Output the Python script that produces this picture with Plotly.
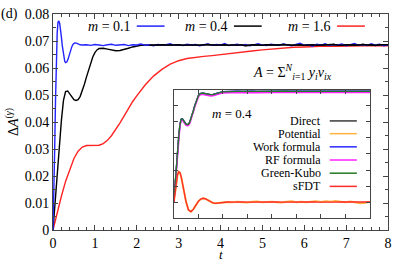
import plotly.graph_objects as go

# ---------------- main panel data ----------------
t_m01_early = [0, 0.02, 0.04, 0.06, 0.08, 0.10, 0.12, 0.14, 0.16, 0.18, 0.20, 0.22, 0.24, 0.26,
               0.28, 0.30, 0.33, 0.36, 0.39, 0.42, 0.45, 0.48, 0.52, 0.56, 0.60, 0.65, 0.70]
y_m01_early = [0, 0.012, 0.030, 0.048, 0.063, 0.0730, 0.0770, 0.0774, 0.0765, 0.0745, 0.0715, 0.0685,
               0.0657, 0.0637, 0.0625, 0.0620, 0.0622, 0.0633, 0.0650, 0.0666, 0.0679, 0.0688, 0.0693,
               0.0692, 0.0689, 0.0686, 0.0685]
t_m01_late = [round(0.8 + 0.1 * i, 2) for i in range(73)]
y_m01_late = [0.0686, 0.0684, 0.0687, 0.0685, 0.0683, 0.0686, 0.0688, 0.0684, 0.0685, 0.0687,
              0.0683, 0.0686, 0.0685, 0.0689, 0.0684, 0.0686, 0.0682, 0.0687, 0.0685, 0.0686,
              0.0690, 0.0684, 0.0686, 0.0683, 0.0688, 0.0685, 0.0687, 0.0682, 0.0686, 0.0689,
              0.0684, 0.0687, 0.0685, 0.0691, 0.0683, 0.0686, 0.0688, 0.0684, 0.0687, 0.0682,
              0.0686, 0.0690, 0.0685, 0.0683, 0.0688, 0.0686, 0.0684, 0.0689, 0.0685, 0.0682,
              0.0687, 0.0692, 0.0684, 0.0686, 0.0681, 0.0688, 0.0685, 0.0690, 0.0683, 0.0687,
              0.0685, 0.0689, 0.0682, 0.0686, 0.0691, 0.0684, 0.0687, 0.0683, 0.0690, 0.0685,
              0.0688, 0.0682, 0.0686]

t_m04_early = [0, 0.05, 0.10, 0.15, 0.20, 0.25, 0.30, 0.35, 0.40, 0.45, 0.50, 0.55, 0.60, 0.65,
               0.70, 0.75, 0.80, 0.85, 0.90, 0.95, 1.00, 1.05, 1.10, 1.20, 1.30, 1.40, 1.50, 1.60,
               1.70, 1.80, 1.90, 2.00, 2.10, 2.20]
y_m04_early = [0, 0.011, 0.022, 0.032, 0.0405, 0.0480, 0.0513, 0.0515, 0.0505, 0.0492, 0.0483,
               0.0480, 0.0483, 0.0495, 0.0515, 0.0540, 0.0567, 0.0594, 0.0620, 0.0641, 0.0657,
               0.0667, 0.0672, 0.0673, 0.0670, 0.0666, 0.0664, 0.0665, 0.0668, 0.0673, 0.0678,
               0.0682, 0.0684, 0.0685]
t_m04_late = [round(2.3 + 0.1 * i, 2) for i in range(58)]
y_m04_late = [0.0684, 0.0685, 0.0684, 0.0686, 0.0685, 0.0684, 0.0685, 0.0686, 0.0684, 0.0685,
              0.0686, 0.0685, 0.0684, 0.0685, 0.0687, 0.0685, 0.0684, 0.0685, 0.0686, 0.0684,
              0.0685, 0.0686, 0.0685, 0.0683, 0.0685, 0.0686, 0.0685, 0.0684, 0.0686, 0.0685,
              0.0684, 0.0685, 0.0687, 0.0685, 0.0684, 0.0685, 0.0686, 0.0684, 0.0685, 0.0686,
              0.0684, 0.0685, 0.0686, 0.0685, 0.0687, 0.0685, 0.0684, 0.0686, 0.0685, 0.0686,
              0.0685, 0.0687, 0.0685, 0.0686, 0.0684, 0.0686, 0.0685, 0.0686]

t_m16 = [0, 0.1, 0.2, 0.3, 0.4, 0.5, 0.6, 0.7, 0.8, 0.9, 1.0, 1.1, 1.2, 1.3, 1.4, 1.5, 1.6, 1.7,
         1.8, 1.9, 2.0, 2.2, 2.4, 2.6, 2.8, 3.0, 3.2, 3.4, 3.6, 3.8, 4.0, 4.25, 4.5, 4.75, 5.0,
         5.25, 5.5, 5.75, 6.0, 6.25, 6.5, 6.75, 7.0, 7.25, 7.5, 7.75, 8.0]
y_m16 = [0, 0.0065, 0.0125, 0.0180, 0.0225, 0.0265, 0.0292, 0.0307, 0.0313, 0.0314, 0.0313,
         0.0314, 0.0320, 0.0332, 0.0350, 0.0372, 0.0397, 0.0423, 0.0450, 0.0475, 0.0497, 0.0537,
         0.0570, 0.0595, 0.0614, 0.0627, 0.0635, 0.0640, 0.0643, 0.0646, 0.0650, 0.0655, 0.0660,
         0.0663, 0.0667, 0.0671, 0.0674, 0.0677, 0.0678, 0.0680, 0.0681, 0.0680, 0.0681, 0.0682,
         0.0681, 0.0683, 0.0682]

# ---------------- inset data (m = 0.4) ----------------
t_in_early = [0, 0.05, 0.10, 0.15, 0.20, 0.25, 0.30, 0.35, 0.40, 0.45, 0.50, 0.55, 0.60, 0.65,
              0.70, 0.75, 0.80, 0.85, 0.90, 0.95, 1.00, 1.05, 1.10, 1.20, 1.30, 1.40, 1.50, 1.60,
              1.70, 1.80, 1.90, 2.00]
y_direct_early = [0, 0.011, 0.022, 0.032, 0.0405, 0.0480, 0.0513, 0.0515, 0.0505, 0.0492, 0.0483,
                  0.0480, 0.0483, 0.0495, 0.0515, 0.0540, 0.0567, 0.0594, 0.0620, 0.0641, 0.0657,
                  0.0667, 0.0672, 0.0673, 0.0670, 0.0666, 0.0664, 0.0665, 0.0668, 0.0673, 0.0678,
                  0.0682]
y_rf_early = [0, 0.010, 0.021, 0.031, 0.0398, 0.0472, 0.0506, 0.0508, 0.0498, 0.0485, 0.0476,
              0.0473, 0.0476, 0.0488, 0.0508, 0.0533, 0.0560, 0.0587, 0.0613, 0.0634, 0.0650,
              0.0660, 0.0665, 0.0666, 0.0663, 0.0659, 0.0657, 0.0658, 0.0661, 0.0666, 0.0671,
              0.0675]
t_in_late = [round(2.2 + 0.2 * i, 2) for i in range(30)]
y_direct_late = [0.0684, 0.0685, 0.0685, 0.0684, 0.0686, 0.0685, 0.0684, 0.0685, 0.0686, 0.0685,
                 0.0684, 0.0685, 0.0686, 0.0685, 0.0685, 0.0684, 0.0686, 0.0685, 0.0685, 0.0686,
                 0.0684, 0.0685, 0.0686, 0.0685, 0.0684, 0.0686, 0.0685, 0.0685, 0.0686, 0.0685]
y_rf_late = [0.0677, 0.0678, 0.0678, 0.0677, 0.0679, 0.0678, 0.0677, 0.0678, 0.0679, 0.0678,
             0.0677, 0.0678, 0.0679, 0.0678, 0.0678, 0.0677, 0.0679, 0.0678, 0.0678, 0.0679,
             0.0677, 0.0678, 0.0679, 0.0678, 0.0677, 0.0679, 0.0678, 0.0678, 0.0679, 0.0678]

t_low_early = [0, 0.05, 0.10, 0.15, 0.20, 0.25, 0.30, 0.35, 0.40, 0.50, 0.60, 0.70, 0.80, 0.90,
               1.00, 1.10, 1.20, 1.30, 1.40, 1.50, 1.60, 1.70, 1.80, 2.00]
y_sfdt_early = [0, 0.0060, 0.0120, 0.0170, 0.0190, 0.0185, 0.0160, 0.0120, 0.0075, 0.0005,
                -0.0045, -0.0055, -0.0040, -0.0015, 0.0008, 0.0022, 0.0027, 0.0023, 0.0014,
                0.0004, -0.0002, -0.0004, -0.0002, 0.0003]
t_low_late = [round(2.2 + 0.2 * i, 2) for i in range(30)]
y_sfdt_late = [0.0004, 0.0003, 0.0005, 0.0004, 0.0003, 0.0004, 0.0005, 0.0003, 0.0004, 0.0004,
               0.0005, 0.0003, 0.0004, 0.0005, 0.0004, 0.0003, 0.0004, 0.0005, 0.0004, 0.0003,
               0.0005, 0.0004, 0.0003, 0.0004, 0.0005, 0.0004, 0.0003, 0.0004, 0.0005, 0.0004]
y_pot_late = [0.0004, 0.0002, 0.0006, 0.0003, 0.0001, 0.0005, 0.0007, 0.0002, 0.0004, 0.0006,
              0.0003, 0.0001, 0.0005, 0.0008, 0.0003, 0.0006, 0.0002, 0.0007, 0.0009, 0.0004,
              0.0008, 0.0005, 0.0010, 0.0006, 0.0002, 0.0007, 0.0004, -0.0003, -0.0001, 0.0006]

x_ticks = [0, 1, 2, 3, 4, 5, 6, 7, 8]
y_ticks = [0, 0.01, 0.02, 0.03, 0.04, 0.05, 0.06, 0.07, 0.08]
y_ticktext = ["0", "0.01", "0.02", "0.03", "0.04", "0.05", "0.06", "0.07", "0.08"]

main_labels = ["<i>m</i> = 0.1", "<i>m</i> = 0.4", "<i>m</i> = 1.6"]
inset_labels = ["Direct", "Potential", "Work formula", "RF formula", "Green-Kubo", "sFDT"]

BLUE = "#2424ff"
RED = "#ff2424"
BLACK = "#000000"
C_DIRECT = "#3a3a3a"
C_POT = "#ffb240"
C_WORK = "#2a2aff"
C_RF = "#ff22ff"
C_GK = "#237a23"
C_SFDT = "#ff2a2a"

fig = go.Figure()

fig.add_trace(go.Scatter(x=t_m16, y=y_m16, mode="lines", line=dict(color=RED, width=1.4)))
fig.add_trace(go.Scatter(x=t_m04_early + t_m04_late, y=y_m04_early + y_m04_late, mode="lines",
                         line=dict(color=BLACK, width=1.4)))
fig.add_trace(go.Scatter(x=t_m01_early + t_m01_late, y=y_m01_early + y_m01_late, mode="lines",
                         line=dict(color=BLUE, width=1.4)))
fig.add_trace(go.Scatter(x=t_m04_late, y=y_m04_late, mode="lines", line=dict(color=BLACK, width=1.6)))

ins = dict(xaxis="x2", yaxis="y2", mode="lines")
fig.add_trace(go.Scatter(x=t_in_early + t_in_late, y=y_direct_early + y_direct_late,
                         line=dict(color=C_DIRECT, width=1.4), **ins))
fig.add_trace(go.Scatter(x=t_low_early + t_low_late, y=y_sfdt_early + y_pot_late,
                         line=dict(color=C_POT, width=2.0), **ins))
fig.add_trace(go.Scatter(x=t_in_early + t_in_late, y=y_direct_early + y_direct_late,
                         line=dict(color=C_WORK, width=1.4), **ins))
fig.add_trace(go.Scatter(x=t_in_early + t_in_late, y=y_rf_early + y_rf_late,
                         line=dict(color=C_RF, width=1.6), **ins))
fig.add_trace(go.Scatter(x=t_in_early + t_in_late, y=y_direct_early + y_direct_late,
                         line=dict(color=C_GK, width=1.3), **ins))
fig.add_trace(go.Scatter(x=t_low_early + t_low_late, y=y_sfdt_early + y_sfdt_late,
                         line=dict(color=C_SFDT, width=1.3), **ins))

FONT = "'Liberation Serif', 'Times New Roman', Times, serif"
axis_common = dict(showline=True, linecolor="#444444", linewidth=1, mirror="allticks",
                   ticks="inside", tickcolor="#444444", showgrid=False, zeroline=False,
                   automargin=False)

fig.update_layout(
    width=407, height=262,
    margin=dict(l=53, r=19, t=14, b=32),
    paper_bgcolor="white", plot_bgcolor="white",
    showlegend=False,
    font=dict(family=FONT, size=14, color="black"),
    xaxis=dict(range=[0, 8], domain=[0, 1], tickvals=x_ticks, ticklen=5,
               minor=dict(ticks="inside", ticklen=3, tick0=0, dtick=0.2, tickcolor="#444444"),
               **axis_common),
    yaxis=dict(range=[0, 0.08], domain=[0, 1], tickvals=y_ticks, ticktext=y_ticktext, ticklen=5,
               minor=dict(ticks="inside", ticklen=3, tick0=0, dtick=0.005, tickcolor="#444444"),
               title=dict(text="Δ<i>A</i><sup>(<i>γ</i>)</sup>", standoff=2, font=dict(size=14)),
               **axis_common),
    xaxis2=dict(range=[0, 8], domain=[0.3606, 0.9462], anchor="y2", tick0=0, dtick=1,
                ticklen=4, showticklabels=False, **axis_common),
    yaxis2=dict(range=[-0.0093, 0.0695], domain=[0.0566, 0.6497], anchor="x2", tick0=0,
                dtick=0.01, ticklen=4, showticklabels=False, **axis_common),
)

annotations = []
shapes = []
main_leg_x = [0.238, 0.528, 0.836]
main_leg_colors = [BLUE, BLACK, RED]
for lab, xr, col in zip(main_labels, main_leg_x, main_leg_colors):
    annotations.append(dict(text=lab, x=xr, y=0.944, xref="paper", yref="paper",
                            xanchor="right", yanchor="middle", showarrow=False,
                            font=dict(size=14)))
    shapes.append(dict(type="line", xref="paper", yref="paper", x0=xr + 0.012, x1=xr + 0.095,
                       y0=0.944, y1=0.944, line=dict(color=col, width=1.5)))

inset_rows_y = [0.505, 0.446, 0.385, 0.324, 0.263, 0.202]
inset_colors = [C_DIRECT, C_POT, C_WORK, C_RF, C_GK, C_SFDT]
for lab, yy, col in zip(inset_labels, inset_rows_y, inset_colors):
    annotations.append(dict(text=lab, x=0.806, y=yy, xref="paper", yref="paper",
                            xanchor="right", yanchor="middle", showarrow=False,
                            font=dict(size=12)))
    shapes.append(dict(type="line", xref="paper", yref="paper", x0=0.826, x1=0.907,
                       y0=yy, y1=yy, line=dict(color=col, width=1.5)))

annotations.append(dict(text="<i>m</i> = 0.4", x=0.468, y=0.539, xref="paper", yref="paper",
                        xanchor="left", yanchor="middle", showarrow=False, font=dict(size=13)))
annotations.append(dict(text="<i>A</i> = Σ<sup><i>N</i></sup><sub><i>i</i>=1</sub> <i>y<sub>i</sub>v<sub>ix</sub></i>",
                        x=0.716, y=0.731, xref="paper", yref="paper",
                        xanchor="center", yanchor="middle", showarrow=False, font=dict(size=14)))
annotations.append(dict(text="(d)", x=-0.160, y=1.0, xref="paper", yref="paper",
                        xanchor="left", yanchor="middle", showarrow=False, font=dict(size=14)))
annotations.append(dict(text="<i>t</i>", x=0.5, y=-0.113, xref="paper", yref="paper",
                        xanchor="center", yanchor="middle", showarrow=False, font=dict(size=13)))

fig.update_layout(annotations=annotations, shapes=shapes)

fig.write_html("out.html", config={"displayModeBar": False},
               post_script="document.body.style.margin='0';document.body.style.padding='0';")
